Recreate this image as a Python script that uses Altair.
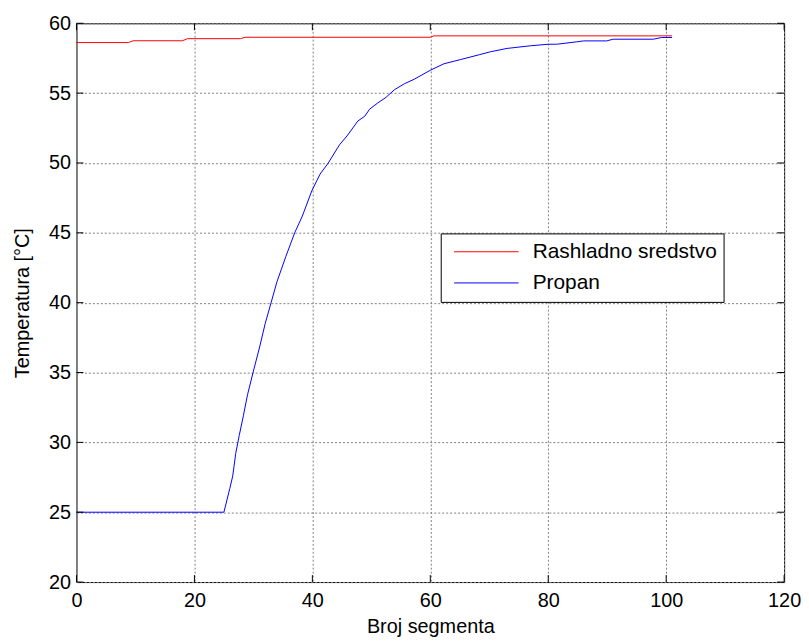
import altair as alt
import pandas as pd

# ---- data ----
red_name = "Rashladno sredstvo"
blue_name = "Propan"

red_x = [0, 8.8, 9.6, 18.0, 18.8, 27.8, 28.6, 60.0, 60.6, 101]
red_y = [58.62, 58.62, 58.75, 58.75, 58.9, 58.9, 59.0, 59.0, 59.1, 59.1]

blue_x = [0, 25, 26, 26.5, 27, 27.6, 28.3, 29, 30, 31.1, 32, 33, 34, 35.5, 37,
          38.3, 39.9, 41.3, 42.7, 44.6, 46, 47.7, 48.9, 49.7, 51.1, 52.5, 53.9,
          55.6, 57.3, 60.1, 62.3, 65.1, 68.3, 70.2, 73, 77, 80, 81.4, 84.8, 86,
          89.9, 91, 97.8, 99.2, 101]
blue_y = [25, 25, 26.7, 27.6, 29.2, 30.5, 31.9, 33.4, 35.1, 36.9, 38.5, 40.0,
          41.5, 43.3, 45.0, 46.2, 48.0, 49.2, 50.0, 51.3, 52.0, 53.0, 53.35,
          53.85, 54.3, 54.7, 55.24, 55.67, 56.0, 56.66, 57.1, 57.4, 57.75, 57.96,
          58.2, 58.39, 58.5, 58.5, 58.67, 58.74, 58.74, 58.86, 58.86, 58.98, 58.98]

x_ticks = [0, 20, 40, 60, 80, 100, 120]
y_ticks = [20, 25, 30, 35, 40, 45, 50, 55, 60]

W, H = 713, 563
FONT = "Liberation Sans"

lines_df = pd.concat([
    pd.DataFrame({"x": red_x, "y": red_y, "series": red_name, "order": range(len(red_x))}),
    pd.DataFrame({"x": blue_x, "y": blue_y, "series": blue_name, "order": range(len(blue_x))}),
], ignore_index=True)

xscale = alt.Scale(domain=[0, 120], nice=False)
yscale = alt.Scale(domain=[20, 60], nice=False)
x_axis = alt.Axis(values=x_ticks, title="Broj segmenta", labelPadding=9,
                  titlePadding=6, labelFlush=False)
y_axis = alt.Axis(values=y_ticks, title="Temperatura [°C]", labelPadding=6,
                  titlePadding=16, labelFlush=False)

lines = alt.Chart(lines_df).mark_line(strokeWidth=1).encode(
    x=alt.X("x:Q", scale=xscale, axis=x_axis),
    y=alt.Y("y:Q", scale=yscale, axis=y_axis),
    color=alt.Color("series:N",
                    scale=alt.Scale(domain=[red_name, blue_name], range=["#ff0000", "#0000ff"]),
                    legend=alt.Legend(title=None)),
    order="order:Q",
)

xt_df = pd.DataFrame({"v": x_ticks})
yt_df = pd.DataFrame({"v": y_ticks})
TL = 7

xt_bottom = alt.Chart(xt_df).mark_rule(color="black", strokeWidth=1).encode(
    x=alt.X("v:Q", scale=xscale, axis=x_axis), y=alt.value(H), y2=alt.value(H - TL))
xt_top = alt.Chart(xt_df).mark_rule(color="black", strokeWidth=1).encode(
    x=alt.X("v:Q", scale=xscale, axis=x_axis), y=alt.value(0), y2=alt.value(TL))
yt_left = alt.Chart(yt_df).mark_rule(color="black", strokeWidth=1).encode(
    y=alt.Y("v:Q", scale=yscale, axis=y_axis), x=alt.value(0), x2=alt.value(TL))
yt_right = alt.Chart(yt_df).mark_rule(color="black", strokeWidth=1).encode(
    y=alt.Y("v:Q", scale=yscale, axis=y_axis), x=alt.value(W), x2=alt.value(W - TL))

chart = alt.layer(lines, xt_bottom, xt_top, yt_left, yt_right).properties(
    width=W, height=H,
    autosize=alt.AutoSizeParams(type="none"),
    padding={"left": 69, "top": 13, "right": 17, "bottom": 60},
).configure_view(
    stroke="black", strokeWidth=1
).configure_axis(
    labelFont=FONT, labelFontSize=20, labelColor="black",
    titleFont=FONT, titleFontSize=20, titleFontWeight="normal", titleColor="black",
    grid=True, gridColor="#808080", gridDash=[2, 2], gridWidth=1, gridOpacity=1,
    domain=False, ticks=False, tickSize=0,
).configure_legend(
    orient="none", legendX=367, legendY=211.7,
    strokeColor="black", fillColor="white", padding=6, cornerRadius=0,
    symbolType="stroke", symbolSize=4225, symbolStrokeWidth=1,
    clipHeight=25, rowPadding=6.4, symbolOffset=7, labelOffset=13.6,
    labelFont=FONT, labelFontSize=21, labelColor="black", labelLimit=400,
)

chart.save("out.html", embed_options={"renderer": "svg", "actions": False})
